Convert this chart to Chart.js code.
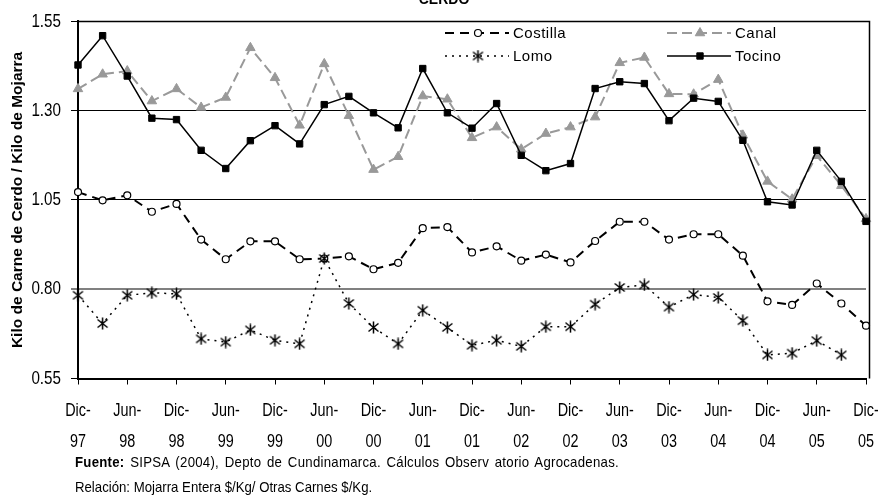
<!DOCTYPE html>
<html>
<head>
<meta charset="utf-8">
<script src="https://cdn.jsdelivr.net/npm/chart.js@4/dist/chart.umd.min.js"></script>
<style>
body { margin: 0; background: #fff; }
#wrap { position: relative; width: 878px; height: 498px; overflow: hidden; background: #fff; }
#grafico { position: absolute; left: 0; top: 0; }
.txt { position: absolute; white-space: nowrap; color: #000; font-family: 'Liberation Sans', Arial, sans-serif; }
.nota { font-size: 15px; line-height: 18px; transform: scaleX(0.88); transform-origin: 0 0; }
</style>
</head>
<body>
<div id="wrap">
  <canvas id="grafico" width="878" height="498"></canvas>
  <div class="txt" style="left:0; width:888px; text-align:center; top:-8px; font: bold 14px 'Liberation Sans', Arial, sans-serif; line-height:14px;">CERDO</div>
  <div class="txt nota" style="left:75px; top:453px; word-spacing:2px; letter-spacing:0.3px;"><b>Fuente:</b> SIPSA (2004), Depto de Cundinamarca. Cálculos Observ atorio Agrocadenas.</div>
  <div class="txt nota" style="left:75px; top:478px;">Relación: Mojarra Entera $/Kg/ Otras Carnes $/Kg.</div>
</div>
<script>
// trimestres, de Dic-97 a Dic-05
const periodos = [
  'Dic-97', 'Mar-98', 'Jun-98', 'Sep-98', 'Dic-98', 'Mar-99', 'Jun-99', 'Sep-99', 'Dic-99',
  'Mar-00', 'Jun-00', 'Sep-00', 'Dic-00', 'Mar-01', 'Jun-01', 'Sep-01', 'Dic-01',
  'Mar-02', 'Jun-02', 'Sep-02', 'Dic-02', 'Mar-03', 'Jun-03', 'Sep-03', 'Dic-03',
  'Mar-04', 'Jun-04', 'Sep-04', 'Dic-04', 'Mar-05', 'Jun-05', 'Sep-05', 'Dic-05'
];

const costilla = [1.072, 1.049, 1.063, 1.017, 1.039, 0.939, 0.884, 0.934, 0.934, 0.884, 0.886, 0.892, 0.856, 0.874, 0.971, 0.974,
  0.903, 0.920, 0.880, 0.897, 0.875, 0.935, 0.989, 0.989, 0.939, 0.954, 0.954, 0.894, 0.766, 0.756, 0.816, 0.760, 0.698];
const canal = [1.361, 1.402, 1.411, 1.327, 1.361, 1.309, 1.337, 1.476, 1.392, 1.259, 1.431, 1.286, 1.135, 1.171, 1.341, 1.332,
  1.224, 1.254, 1.192, 1.236, 1.254, 1.282, 1.434, 1.449, 1.347, 1.346, 1.387, 1.231, 1.102, 1.052, 1.174, 1.090, 0.997];
const lomo = [0.783, 0.704, 0.783, 0.790, 0.787, 0.661, 0.652, 0.686, 0.657, 0.647, 0.886, 0.760, 0.693, 0.647, 0.741, 0.693,
  0.643, 0.657, 0.640, 0.695, 0.695, 0.758, 0.805, 0.812, 0.750, 0.785, 0.777, 0.712, 0.616, 0.621, 0.656, 0.616, null];
const tocino = [1.428, 1.510, 1.397, 1.279, 1.275, 1.189, 1.138, 1.216, 1.258, 1.207, 1.317, 1.340, 1.294, 1.252, 1.418, 1.294,
  1.251, 1.320, 1.175, 1.132, 1.152, 1.362, 1.381, 1.376, 1.272, 1.335, 1.326, 1.217, 1.045, 1.036, 1.189, 1.102, 0.990];

const yMin = 0.55;
const yMax = 1.55;
const yPaso = 0.25;

// no hay Arial Narrow: se usa Liberation Sans comprimida al dibujar
const fuenteEstrecha = "'Liberation Sans Narrow', 'Liberation Sans', Arial, sans-serif";
const factorEstrecho = 0.8;

// asterisco de seis puntas para Lomo
const asterisco = document.createElement('canvas');
asterisco.width = 13;
asterisco.height = 13;
(function () {
  const c = asterisco.getContext('2d');
  c.strokeStyle = '#000';
  c.lineWidth = 1.5;
  c.beginPath();
  c.moveTo(6.5, 0.5); c.lineTo(6.5, 12.5);
  c.moveTo(1.5, 2.5); c.lineTo(11.5, 10.5);
  c.moveTo(11.5, 2.5); c.lineTo(1.5, 10.5);
  c.stroke();
})();

const textoEstrecho = {
  id: 'textoEstrecho',
  beforeInit(chart) {
    const c = chart.ctx;
    const original = c.fillText;
    c.fillText = function (txt, x, y, maxW) {
      if (this.font.indexOf('Narrow') >= 0) {
        const w = this.measureText(txt).width * factorEstrecho;
        return original.call(this, txt, x, y, maxW === undefined ? w : Math.min(w, maxW));
      }
      return maxW === undefined ? original.call(this, txt, x, y) : original.call(this, txt, x, y, maxW);
    };
  }
};

const marcoYLeyenda = {
  id: 'marcoYLeyenda',
  afterDatasetsDraw(chart) {
    const ctx = chart.ctx;
    const area = chart.chartArea;
    ctx.save();
    ctx.strokeStyle = '#000';
    ctx.lineWidth = 1.5;
    ctx.beginPath();
    ctx.moveTo(area.left, area.top);
    ctx.lineTo(869.5, area.top);
    ctx.lineTo(869.5, area.bottom);
    ctx.stroke();
    ctx.restore();

    const items = [
      { i: 2, x: 445, y: 33 },
      { i: 3, x: 667, y: 33 },
      { i: 1, x: 445, y: 56 },
      { i: 0, x: 667, y: 56 }
    ];
    items.forEach(it => {
      const ds = chart.data.datasets[it.i];
      ctx.save();
      ctx.strokeStyle = ds.borderColor;
      ctx.lineWidth = ds.borderWidth;
      ctx.setLineDash(ds.borderDash || []);
      ctx.beginPath();
      ctx.moveTo(it.x, it.y);
      ctx.lineTo(it.x + 64, it.y);
      ctx.stroke();
      ctx.setLineDash([]);
      ctx.fillStyle = ds.pointBackgroundColor;
      ctx.strokeStyle = ds.pointBorderColor;
      ctx.lineWidth = ds.pointBorderWidth;
      Chart.helpers.drawPoint(ctx, {
        pointStyle: ds.pointStyle,
        radius: ds.pointRadius,
        borderWidth: ds.pointBorderWidth,
        rotation: 0
      }, it.x + 33, it.y);
      ctx.fillStyle = '#000';
      ctx.font = "15px 'Liberation Sans', Arial, sans-serif";
      ctx.letterSpacing = '0.5px';
      ctx.textBaseline = 'middle';
      ctx.textAlign = 'left';
      ctx.fillText(ds.label, it.x + 68, it.y + 1);
      ctx.restore();
    });
  }
};

const ctx = document.getElementById('grafico').getContext('2d');
new Chart(ctx, {
  type: 'line',
  data: {
    labels: periodos,
    datasets: [
      {
        label: 'Tocino',
        data: tocino,
        borderColor: '#000',
        borderWidth: 1.5,
        pointStyle: 'rect',
        pointRadius: 4.5,
        pointBackgroundColor: '#000',
        pointBorderColor: '#000',
        pointBorderWidth: 1,
        tension: 0
      },
      {
        label: 'Lomo',
        data: lomo,
        borderColor: '#000',
        borderWidth: 1.5,
        borderDash: [2, 5],
        pointStyle: asterisco,
        pointRadius: 6,
        pointBackgroundColor: '#000',
        pointBorderColor: '#000',
        pointBorderWidth: 1,
        tension: 0
      },
      {
        label: 'Costilla',
        data: costilla,
        borderColor: '#000',
        borderWidth: 2,
        borderDash: [9, 6],
        pointStyle: 'circle',
        pointRadius: 3.5,
        pointBackgroundColor: '#fff',
        pointBorderColor: '#000',
        pointBorderWidth: 1.2,
        tension: 0
      },
      {
        label: 'Canal',
        data: canal,
        borderColor: '#999999',
        borderWidth: 2,
        borderDash: [10, 5],
        pointStyle: 'triangle',
        pointRadius: 5.5,
        pointBackgroundColor: '#999999',
        pointBorderColor: '#999999',
        pointBorderWidth: 1,
        tension: 0
      }
    ]
  },
  options: {
    responsive: false,
    animation: false,
    devicePixelRatio: 1,
    layout: { padding: { left: 0, right: 12, top: 16, bottom: 0 } },
    plugins: {
      legend: { display: false },
      tooltip: { enabled: false }
    },
    scales: {
      x: {
        type: 'category',
        offset: false,
        afterFit: (scale) => {
          scale.height = 498 - 378.5;
          scale.paddingLeft = 0;
          scale.paddingRight = 0;
        },
        border: { display: true, color: '#000', width: 2 },
        grid: {
          offset: false,
          drawOnChartArea: false,
          drawTicks: true,
          tickLength: 6,
          lineWidth: 1,
          color: (c) => (c.index % 2 === 0 ? '#000' : 'rgba(0,0,0,0)')
        },
        ticks: {
          autoSkip: false,
          maxRotation: 0,
          minRotation: 0,
          padding: 12,
          color: '#000',
          font: { family: fuenteEstrecha, size: 18, lineHeight: 1.67 },
          callback: function (val, i) {
            if (i % 2 !== 0) return '';
            const p = periodos[i].split('-');
            return [p[0] + '-', p[1]];
          }
        }
      },
      y: {
        min: yMin,
        max: yMax,
        afterFit: (scale) => { scale.width = 78; },
        border: { display: true, color: '#000', width: 2 },
        grid: {
          drawTicks: true,
          tickLength: 7,
          color: (c) => (c.tick && Math.abs(c.tick.value - 0.8) < 1e-6 ? '#808080' : '#000'),
          lineWidth: (c) => (c.tick && Math.abs(c.tick.value - 0.8) < 1e-6 ? 2 : 1)
        },
        ticks: {
          stepSize: yPaso,
          padding: 10,
          color: '#000',
          font: { family: fuenteEstrecha, size: 19 },
          callback: (v) => v.toFixed(2)
        },
        title: {
          display: true,
          text: 'Kilo de Carne de Cerdo / Kilo de Mojarra',
          color: '#000',
          font: { family: "'Liberation Sans', Arial, sans-serif", size: 15.5, weight: 'bold' },
          padding: { top: 8, bottom: 0 }
        }
      }
    }
  },
  plugins: [textoEstrecho, marcoYLeyenda]
});
</script>
</body>
</html>
